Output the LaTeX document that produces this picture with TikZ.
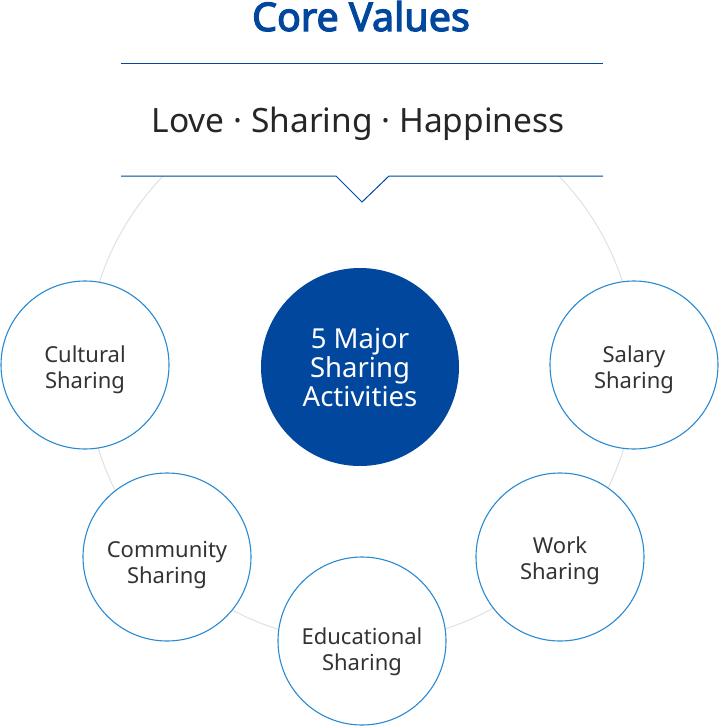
\documentclass[tikz,border=0pt]{standalone}
\usepackage{fontspec}
\setmainfont{Noto Sans}
\newfontfamily\titlefont{Noto Sans}[FakeBold=3]
\usepackage{tikz}
\definecolor{coreblue}{HTML}{00479D}
\definecolor{ringblue}{HTML}{2A8AD2}
\definecolor{textgray}{HTML}{333333}
\tikzstyle{share} = [circle, draw=ringblue, line width=1.1pt, fill=white, minimum size=168pt, inner sep=0pt]
\tikzstyle{sharetext} = [align=center, text=textgray, font=\fontsize{22}{26}\selectfont]
\tikzstyle{hub} = [circle, fill=coreblue, minimum size=198pt, inner sep=0pt, align=center, text=white, font=\fontsize{27.5}{29}\selectfont]

\begin{document}
\begin{tikzpicture}[x=1pt,y=-1pt]
	\useasboundingbox (0,0) rectangle (719,726);
	% ring behind the circles
	\draw[black!12, line width=1pt] (361,367) circle (275pt);
	% core values box
	\fill[white] (121,63) rectangle (603,176);
	\fill[white] (336,176) -- (362,202) -- (389,176) -- cycle;
	\draw[coreblue, line width=1pt] (121,63) -- (603,63);
	\draw[coreblue, line width=1pt] (121,176) -- (336,176) -- (362,202) -- (389,176) -- (603,176);
	\node[anchor=base, text=coreblue, font=\titlefont\fontsize{39.5}{42}\selectfont] (title) at (361,31) {Core Values};
	\node[anchor=base, text=black!85, font=\fontsize{33.5}{40}\selectfont] (values) at (358,132) {Love · Sharing · Happiness};
	% activities
	\node[hub] (hub) at (360,367) {5 Major\\Sharing\\Activities};
	\node[share, label={[sharetext, yshift=-4pt]center:\strut Cultural\\Sharing}] (cultural) at (85,365) {};
	\node[share, label={[sharetext, yshift=-4pt]center:\strut Salary\\Sharing}] (salary) at (634,365) {};
	\node[share, label={[sharetext, yshift=-7pt]center:\strut Community\\Sharing}] (community) at (167,557) {};
	\node[share, label={[sharetext, yshift=-3pt]center:\strut Work\\Sharing}] (work) at (560,557) {};
	\node[share, label={[sharetext, yshift=-10pt]center:\strut Educational\\Sharing}] (educational) at (362,641) {};
\end{tikzpicture}
\end{document}
